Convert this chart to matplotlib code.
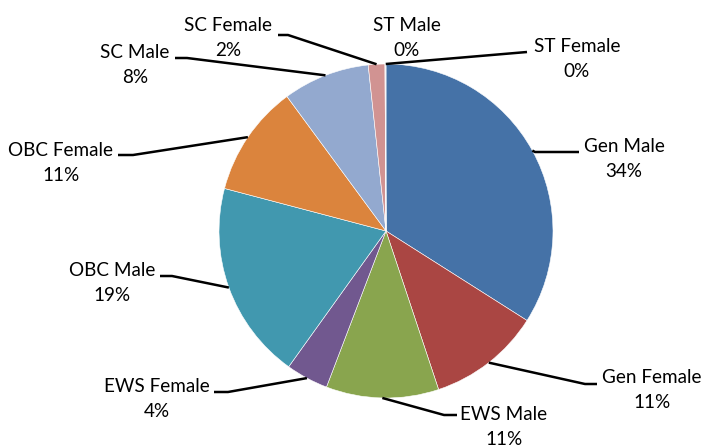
import numpy as np
import matplotlib
matplotlib.use("Agg")
import matplotlib.pyplot as plt

categories = ["Gen Male", "Gen Female", "EWS Male", "EWS Female", "OBC Male",
              "OBC Female", "SC Male", "SC Female", "ST Male", "ST Female"]
values = [34.0, 10.9, 10.9, 4.1, 19.2, 10.8, 8.4, 1.6, 0.05, 0.05]
colors = ["#4572A7", "#AA4643", "#89A54E", "#71588F", "#4198AF",
          "#DB843D", "#93A9CF", "#D19392", "#B9CD96", "#A99BBD"]

W, H = 704, 447
fig = plt.figure(figsize=(W / 100, H / 100), dpi=100)
ax = fig.add_axes([0, 0, 1, 1])

cx, cy, R = 386, H - 231, 167
wedges, _ = ax.pie(values, colors=colors, startangle=90, counterclock=False,
                   center=(cx, cy), radius=R,
                   wedgeprops=dict(edgecolor="white", linewidth=0.4))
ax.set_xlim(0, W)
ax.set_ylim(0, H)
ax.set_aspect("equal")
ax.axis("off")

# label layout in image pixels (y down): text centre, elbow point, horizontal end
layout = {
    "Gen Male":   ((624, 159), (535, 152), 579),
    "Gen Female": ((652, 390), (585, 384), 597),
    "EWS Male":   ((504, 427), (444, 415), 457),
    "EWS Female": ((157, 399), (228, 392), 214),
    "OBC Male":   ((112, 283), (172, 276), 160),
    "OBC Female": ((61, 163), (133, 155), 118),
    "SC Male":    ((135, 65), (187, 58), 175),
    "SC Female":  ((228, 38), (288, 35), 278),
    "ST Male":    ((407, 38), None, None),
    "ST Female":  ((577, 59), (527, 52), 527),
}

total = sum(values)
for w, cat, v in zip(wedges, categories, values):
    (tx, ty), elbow, hx = layout[cat]
    pct = int(round(100 * v / total))
    ax.text(tx, H - ty, f"{cat}\n{pct}%", ha="center", va="center",
            fontsize=13.6, family="Lato", color="black", linespacing=1.6)
    if elbow is not None:
        mid = np.deg2rad((w.theta1 + w.theta2) / 2)
        px, py = cx + R * np.cos(mid), cy + R * np.sin(mid)
        ex, ey = elbow
        ax.plot([px, ex, hx], [py, H - ey, H - ey], color="black", lw=1.8,
                solid_capstyle="butt", zorder=3)

fig.savefig("out.png", dpi=100)
